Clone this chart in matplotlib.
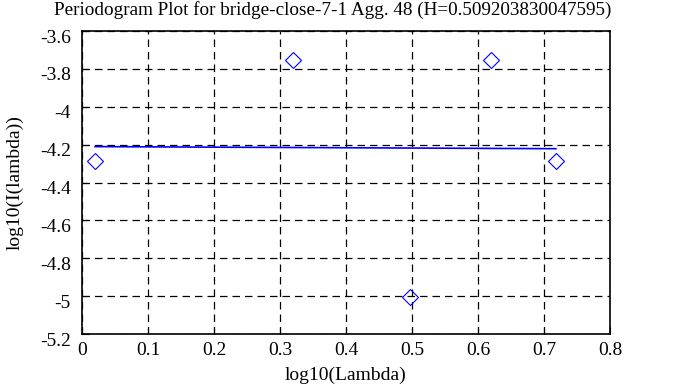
import matplotlib
matplotlib.use("Agg")
import matplotlib.pyplot as plt
import matplotlib.transforms as mtransforms

x_pts = [0.0197, 0.3197, 0.497, 0.6197, 0.718]
y_pts = [-4.285, -3.753, -5.007, -3.753, -4.285]
fit_x = [0.0197, 0.718]
fit_y = [-4.2105, -4.2215]
xticks = [0, 0.1, 0.2, 0.3, 0.4, 0.5, 0.6, 0.7, 0.8]
yticks = [-5.2, -5, -4.8, -4.6, -4.4, -4.2, -4, -3.8, -3.6]
ytick_labels = ["-5.2", "-5", "-4.8", "-4.6", "-4.4", "-4.2", "-4", "-3.8", "-3.6"]
xtick_labels = ["0", "0.1", "0.2", "0.3", "0.4", "0.5", "0.6", "0.7", "0.8"]
title = "Periodogram Plot for bridge-close-7-1 Agg. 48 (H=0.509203830047595)"

plt.rcParams['font.family'] = ['Liberation Serif', 'DejaVu Serif']
fig = plt.figure(figsize=(6.88, 3.87), dpi=100)
ax = fig.add_axes([82/688, 1-334/387, (610-82)/688, (334-31)/387])

ax.plot(fit_x, fit_y, color='blue', lw=1.2)
ax.plot(x_pts, y_pts, linestyle='none', marker='D', markersize=8.5,
        markerfacecolor='none', markeredgecolor='blue', markeredgewidth=0.8)

ax.set_xlim(0, 0.8)
ax.set_ylim(-5.2, -3.6)
ax.set_xticks(xticks)
ax.set_xticklabels(xtick_labels)
ax.set_yticks(yticks)
ax.set_yticklabels(ytick_labels)
ax.tick_params(direction='in', labelsize=14, length=5, color='black')
ax.tick_params(axis='x', pad=6)
ax.tick_params(axis='y', pad=8)
off = mtransforms.ScaledTranslation(0, -5/100, fig.dpi_scale_trans)
for lab in ax.get_yticklabels():
    lab.set_transform(lab.get_transform() + off)
ax.grid(True, color='black', linestyle=(0, (6, 4)), linewidth=0.9)
for s in ax.spines.values():
    s.set_linewidth(1.2)
fig.text(54/688, 1 - 15/387, title, fontsize=13.8, ha='left', va='baseline')
ax.set_xlabel("log10(Lambda)", fontsize=14, labelpad=5)
ax.set_ylabel("log10(I(lambda))", fontsize=14, labelpad=12)

fig.savefig("out.png", dpi=100)
